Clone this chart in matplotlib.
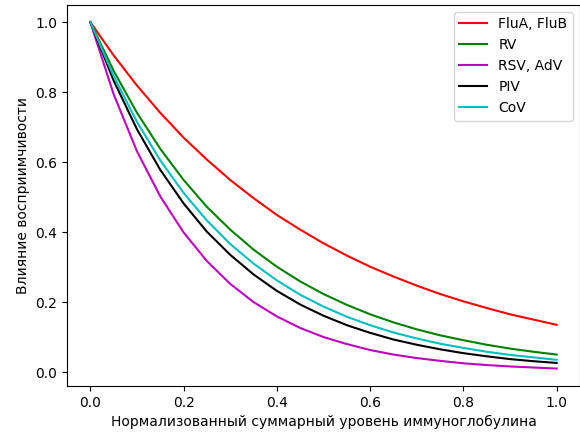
import matplotlib
matplotlib.use("Agg")
import matplotlib.pyplot as plt

x = [0.0, 0.05, 0.1, 0.15, 0.2, 0.25, 0.3, 0.35, 0.4, 0.45, 0.5,
     0.55, 0.6, 0.65, 0.7, 0.75, 0.8, 0.85, 0.9, 0.95, 1.0]

flu = [1.0, 0.905, 0.819, 0.741, 0.670, 0.607, 0.549, 0.497, 0.449, 0.407, 0.368,
       0.333, 0.301, 0.273, 0.247, 0.223, 0.202, 0.183, 0.165, 0.150, 0.135]
rv = [1.0, 0.861, 0.741, 0.638, 0.549, 0.472, 0.407, 0.350, 0.301, 0.259, 0.223,
      0.192, 0.165, 0.142, 0.122, 0.105, 0.091, 0.078, 0.067, 0.058, 0.050]
rsv = [1.0, 0.794, 0.631, 0.502, 0.399, 0.317, 0.252, 0.200, 0.159, 0.126, 0.100,
       0.080, 0.063, 0.050, 0.040, 0.032, 0.025, 0.020, 0.016, 0.013, 0.010]
piv = [1.0, 0.833, 0.694, 0.578, 0.482, 0.401, 0.335, 0.279, 0.232, 0.193, 0.161,
       0.134, 0.112, 0.093, 0.078, 0.065, 0.054, 0.045, 0.037, 0.031, 0.026]
cov = [1.0, 0.846, 0.715, 0.605, 0.512, 0.433, 0.366, 0.310, 0.262, 0.221, 0.187,
       0.158, 0.134, 0.113, 0.096, 0.081, 0.069, 0.058, 0.049, 0.042, 0.035]

labels = ["FluA, FluB", "RV", "RSV, AdV", "PIV", "CoV"]
colors = ["red", "green", "m", "black", "c"]
series = [flu, rv, rsv, piv, cov]

fig, ax = plt.subplots(figsize=(5.8, 4.37), dpi=100)
for s, lab, c in zip(series, labels, colors):
    ax.plot(x, s, color=c, label=lab, linewidth=1.5)
ax.set_xlabel("Нормализованный суммарный уровень иммуноглобулина")
ax.set_ylabel("Влияние восприимчивости")
ax.legend(loc="upper right")
fig.subplots_adjust(left=0.1155, right=1.0, top=0.989, bottom=0.117)
fig.savefig("out.png", dpi=100)
